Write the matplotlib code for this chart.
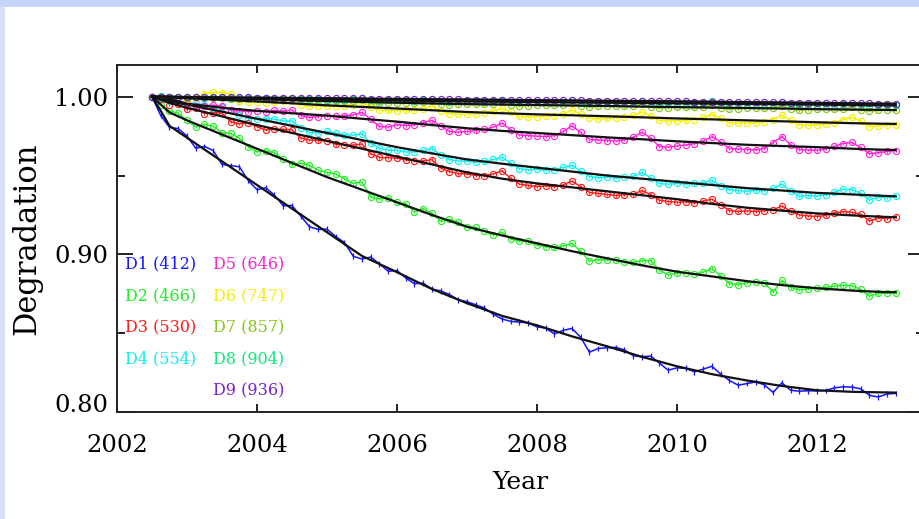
import matplotlib
matplotlib.use("Agg")
import matplotlib.pyplot as plt
from matplotlib.patches import Rectangle

# ---------------- data ----------------
YEARS = [2002.500, 2002.625, 2002.750, 2002.875, 2003.000, 2003.125, 2003.250, 2003.375, 2003.500, 2003.625,
         2003.750, 2003.875, 2004.000, 2004.125, 2004.250, 2004.375, 2004.500, 2004.625, 2004.750, 2004.875,
         2005.000, 2005.125, 2005.250, 2005.375, 2005.500, 2005.625, 2005.750, 2005.875, 2006.000, 2006.125,
         2006.250, 2006.375, 2006.500, 2006.625, 2006.750, 2006.875, 2007.000, 2007.125, 2007.250, 2007.375,
         2007.500, 2007.625, 2007.750, 2007.875, 2008.000, 2008.125, 2008.250, 2008.375, 2008.500, 2008.625,
         2008.750, 2008.875, 2009.000, 2009.125, 2009.250, 2009.375, 2009.500, 2009.625, 2009.750, 2009.875,
         2010.000, 2010.125, 2010.250, 2010.375, 2010.500, 2010.625, 2010.750, 2010.875, 2011.000, 2011.125,
         2011.250, 2011.375, 2011.500, 2011.625, 2011.750, 2011.875, 2012.000, 2012.125, 2012.250, 2012.375,
         2012.500, 2012.625, 2012.750, 2012.875, 2013.000, 2013.125]

D1 = [1.0000, 0.9880, 0.9805, 0.9798, 0.9750, 0.9673, 0.9685, 0.9658, 0.9570, 0.9563,
      0.9555, 0.9468, 0.9410, 0.9423, 0.9375, 0.9308, 0.9310, 0.9243, 0.9175, 0.9158,
      0.9160, 0.9113, 0.9075, 0.8988, 0.8970, 0.8983, 0.8939, 0.8893, 0.8897, 0.8850,
      0.8814, 0.8817, 0.8780, 0.8768, 0.8745, 0.8712, 0.8700, 0.8680, 0.8660, 0.8620,
      0.8590, 0.8575, 0.8570, 0.8565, 0.8540, 0.8532, 0.8495, 0.8518, 0.8530, 0.8474,
      0.8379, 0.8403, 0.8407, 0.8410, 0.8394, 0.8357, 0.8350, 0.8355, 0.8310, 0.8265,
      0.8280, 0.8277, 0.8255, 0.8272, 0.8290, 0.8240, 0.8200, 0.8170, 0.8180, 0.8191,
      0.8172, 0.8124, 0.8185, 0.8138, 0.8132, 0.8135, 0.8133, 0.8136, 0.8153, 0.8160,
      0.8158, 0.8147, 0.8106, 0.8095, 0.8114, 0.8118]
D2 = [1.0000, 0.9950, 0.9910, 0.9895, 0.9850, 0.9808, 0.9825, 0.9813, 0.9770, 0.9768,
      0.9735, 0.9683, 0.9650, 0.9658, 0.9645, 0.9603, 0.9570, 0.9578, 0.9565, 0.9533,
      0.9520, 0.9510, 0.9480, 0.9450, 0.9460, 0.9365, 0.9352, 0.9360, 0.9330, 0.9320,
      0.9270, 0.9290, 0.9260, 0.9211, 0.9223, 0.9204, 0.9175, 0.9171, 0.9148, 0.9124,
      0.9140, 0.9098, 0.9085, 0.9083, 0.9060, 0.9048, 0.9045, 0.9053, 0.9070, 0.9019,
      0.8958, 0.8966, 0.8965, 0.8964, 0.8953, 0.8951, 0.8960, 0.8960, 0.8900, 0.8870,
      0.8880, 0.8883, 0.8875, 0.8888, 0.8910, 0.8863, 0.8815, 0.8808, 0.8820, 0.8824,
      0.8818, 0.8761, 0.8835, 0.8790, 0.8775, 0.8780, 0.8785, 0.8791, 0.8798, 0.8804,
      0.8800, 0.8778, 0.8735, 0.8753, 0.8755, 0.8755]
D3 = [1.0000, 0.9985, 0.9950, 0.9955, 0.9920, 0.9926, 0.9893, 0.9899, 0.9895, 0.9841,
      0.9828, 0.9834, 0.9810, 0.9788, 0.9795, 0.9793, 0.9790, 0.9738, 0.9725, 0.9723,
      0.9720, 0.9698, 0.9695, 0.9693, 0.9700, 0.9638, 0.9615, 0.9613, 0.9610, 0.9598,
      0.9595, 0.9593, 0.9600, 0.9548, 0.9525, 0.9513, 0.9510, 0.9500, 0.9500, 0.9510,
      0.9530, 0.9483, 0.9445, 0.9438, 0.9430, 0.9434, 0.9428, 0.9441, 0.9465, 0.9429,
      0.9393, 0.9386, 0.9380, 0.9374, 0.9378, 0.9381, 0.9405, 0.9379, 0.9343, 0.9336,
      0.9330, 0.9333, 0.9325, 0.9338, 0.9350, 0.9314, 0.9278, 0.9272, 0.9276, 0.9271,
      0.9277, 0.9282, 0.9307, 0.9273, 0.9249, 0.9244, 0.9240, 0.9247, 0.9264, 0.9270,
      0.9267, 0.9255, 0.9212, 0.9230, 0.9227, 0.9240]
D4 = [1.0000, 0.9990, 0.9975, 0.9970, 0.9960, 0.9959, 0.9948, 0.9926, 0.9935, 0.9914,
      0.9883, 0.9861, 0.9860, 0.9859, 0.9858, 0.9846, 0.9845, 0.9804, 0.9773, 0.9771,
      0.9780, 0.9769, 0.9758, 0.9756, 0.9765, 0.9704, 0.9673, 0.9661, 0.9660, 0.9650,
      0.9650, 0.9660, 0.9670, 0.9631, 0.9601, 0.9592, 0.9592, 0.9585, 0.9589, 0.9602,
      0.9615, 0.9579, 0.9543, 0.9536, 0.9540, 0.9534, 0.9538, 0.9551, 0.9565, 0.9529,
      0.9493, 0.9486, 0.9490, 0.9485, 0.9490, 0.9495, 0.9520, 0.9485, 0.9450, 0.9445,
      0.9450, 0.9445, 0.9450, 0.9455, 0.9470, 0.9435, 0.9410, 0.9405, 0.9400, 0.9406,
      0.9403, 0.9419, 0.9445, 0.9401, 0.9368, 0.9374, 0.9370, 0.9378, 0.9395, 0.9413,
      0.9410, 0.9388, 0.9345, 0.9363, 0.9360, 0.9368]
D5 = [1.0000, 0.9995, 0.9985, 0.9975, 0.9960, 0.9939, 0.9943, 0.9946, 0.9940, 0.9915,
      0.9910, 0.9905, 0.9910, 0.9906, 0.9913, 0.9909, 0.9915, 0.9881, 0.9868, 0.9874,
      0.9880, 0.9875, 0.9880, 0.9885, 0.9900, 0.9856, 0.9811, 0.9807, 0.9822, 0.9817,
      0.9821, 0.9836, 0.9850, 0.9815, 0.9780, 0.9775, 0.9780, 0.9786, 0.9792, 0.9807,
      0.9833, 0.9790, 0.9757, 0.9753, 0.9750, 0.9747, 0.9753, 0.9780, 0.9816, 0.9773,
      0.9729, 0.9726, 0.9722, 0.9719, 0.9726, 0.9743, 0.9775, 0.9737, 0.9684, 0.9680,
      0.9687, 0.9694, 0.9702, 0.9719, 0.9746, 0.9713, 0.9671, 0.9668, 0.9665, 0.9663,
      0.9671, 0.9709, 0.9747, 0.9695, 0.9664, 0.9662, 0.9660, 0.9668, 0.9685, 0.9703,
      0.9710, 0.9678, 0.9637, 0.9645, 0.9653, 0.9657]
D6 = [1.0000, 0.9998, 0.9990, 0.9992, 0.9985, 0.9990, 1.0020, 1.0028, 1.0025, 1.0018,
      0.9970, 0.9968, 0.9965, 0.9962, 0.9968, 0.9970, 0.9975, 0.9950, 0.9940, 0.9942,
      0.9940, 0.9940, 0.9944, 0.9950, 0.9965, 0.9935, 0.9915, 0.9913, 0.9912, 0.9914,
      0.9916, 0.9925, 0.9942, 0.9910, 0.9893, 0.9890, 0.9891, 0.9893, 0.9897, 0.9910,
      0.9928, 0.9900, 0.9875, 0.9873, 0.9874, 0.9876, 0.9880, 0.9892, 0.9915, 0.9890,
      0.9865, 0.9860, 0.9862, 0.9866, 0.9872, 0.9882, 0.9904, 0.9880, 0.9850, 0.9846,
      0.9847, 0.9850, 0.9855, 0.9868, 0.9886, 0.9862, 0.9836, 0.9832, 0.9833, 0.9835,
      0.9840, 0.9855, 0.9882, 0.9850, 0.9822, 0.9820, 0.9822, 0.9826, 0.9835, 0.9855,
      0.9870, 0.9845, 0.9810, 0.9815, 0.9818, 0.9822]
D7 = [1.0000, 1.0000, 0.9995, 0.9998, 0.9993, 0.9996, 0.9990, 0.9994, 0.9992, 0.9986,
      0.9986, 0.9988, 0.9984, 0.9985, 0.9980, 0.9983, 0.9990, 0.9972, 0.9970, 0.9973,
      0.9971, 0.9971, 0.9970, 0.9974, 0.9982, 0.9963, 0.9958, 0.9960, 0.9961, 0.9960,
      0.9960, 0.9964, 0.9972, 0.9953, 0.9948, 0.9951, 0.9952, 0.9952, 0.9952, 0.9956,
      0.9965, 0.9947, 0.9940, 0.9944, 0.9946, 0.9946, 0.9946, 0.9950, 0.9959, 0.9941,
      0.9934, 0.9938, 0.9940, 0.9940, 0.9939, 0.9943, 0.9952, 0.9934, 0.9927, 0.9931,
      0.9933, 0.9933, 0.9932, 0.9936, 0.9946, 0.9928, 0.9920, 0.9924, 0.9927, 0.9927,
      0.9926, 0.9930, 0.9940, 0.9921, 0.9914, 0.9918, 0.9920, 0.9921, 0.9920, 0.9925,
      0.9932, 0.9915, 0.9909, 0.9913, 0.9915, 0.9916]
D8 = [1.0000, 1.0002, 0.9998, 0.9999, 0.9996, 0.9995, 0.9994, 0.9995, 0.9997, 0.9990,
      0.9990, 0.9991, 0.9989, 0.9989, 0.9988, 0.9989, 0.9994, 0.9984, 0.9983, 0.9984,
      0.9982, 0.9982, 0.9981, 0.9983, 0.9990, 0.9977, 0.9975, 0.9977, 0.9976, 0.9976,
      0.9975, 0.9977, 0.9985, 0.9970, 0.9969, 0.9971, 0.9970, 0.9970, 0.9969, 0.9972,
      0.9982, 0.9966, 0.9964, 0.9966, 0.9966, 0.9966, 0.9965, 0.9968, 0.9979, 0.9962,
      0.9960, 0.9962, 0.9962, 0.9962, 0.9961, 0.9963, 0.9975, 0.9958, 0.9956, 0.9958,
      0.9958, 0.9958, 0.9957, 0.9959, 0.9971, 0.9954, 0.9952, 0.9954, 0.9954, 0.9954,
      0.9953, 0.9955, 0.9967, 0.9950, 0.9948, 0.9950, 0.9950, 0.9949, 0.9948, 0.9951,
      0.9961, 0.9945, 0.9943, 0.9945, 0.9945, 0.9945]
D9 = [1.0000, 1.0001, 0.9999, 0.9999, 0.9998, 0.9998, 0.9997, 0.9997, 0.9996, 0.9996,
      0.9995, 0.9995, 0.9994, 0.9994, 0.9993, 0.9993, 0.9993, 0.9992, 0.9991, 0.9991,
      0.9990, 0.9990, 0.9989, 0.9989, 0.9989, 0.9988, 0.9987, 0.9987, 0.9986, 0.9986,
      0.9985, 0.9985, 0.9985, 0.9984, 0.9983, 0.9983, 0.9982, 0.9982, 0.9981, 0.9981,
      0.9981, 0.9980, 0.9979, 0.9979, 0.9978, 0.9978, 0.9977, 0.9977, 0.9977, 0.9976,
      0.9975, 0.9975, 0.9974, 0.9974, 0.9973, 0.9973, 0.9973, 0.9972, 0.9971, 0.9971,
      0.9970, 0.9970, 0.9969, 0.9969, 0.9969, 0.9968, 0.9967, 0.9966, 0.9965, 0.9965,
      0.9964, 0.9964, 0.9964, 0.9963, 0.9962, 0.9962, 0.9961, 0.9960, 0.9960, 0.9959,
      0.9959, 0.9958, 0.9957, 0.9956, 0.9956, 0.9956]

FIT_YEARS = [2002.5, 2002.625, 2002.75, 2003.0, 2003.5, 2004.0, 2004.5, 2005.0, 2005.5, 2006.0,
             2006.5, 2007.0, 2007.5, 2008.0, 2008.5, 2009.0, 2009.5, 2010.0, 2010.5, 2011.0,
             2011.5, 2012.0, 2012.5, 2013.0, 2013.125]
F1 = [1.000, 0.991, 0.9815, 0.974, 0.959, 0.944, 0.929, 0.914, 0.899, 0.8887, 0.878, 0.869, 0.861,
      0.855, 0.848, 0.8417, 0.835, 0.829, 0.824, 0.820, 0.8165, 0.8138, 0.8128, 0.8124, 0.8123]
F2 = [1.000, 0.995, 0.990, 0.985, 0.976, 0.967, 0.958, 0.949, 0.941, 0.933, 0.925, 0.9175, 0.912,
      0.907, 0.902, 0.8975, 0.893, 0.889, 0.886, 0.883, 0.8805, 0.8785, 0.877, 0.876, 0.876]
F3 = [1.000, 0.998, 0.996, 0.993, 0.9875, 0.982, 0.977, 0.972, 0.967, 0.962, 0.957, 0.952, 0.948,
      0.945, 0.9425, 0.940, 0.9375, 0.935, 0.932, 0.9296, 0.9277, 0.926, 0.9247, 0.9237, 0.9235]
F4 = [1.000, 0.9985, 0.997, 0.995, 0.9905, 0.986, 0.9815, 0.977, 0.9725, 0.968, 0.964, 0.9602, 0.9575,
      0.955, 0.9525, 0.950, 0.948, 0.946, 0.944, 0.942, 0.9405, 0.939, 0.938, 0.937, 0.9368]
F5 = [1.000, 0.99925, 0.9985, 0.9955, 0.993, 0.991, 0.9895, 0.988, 0.986, 0.9842, 0.982, 0.980, 0.9783,
      0.977, 0.9756, 0.9742, 0.973, 0.9717, 0.9706, 0.9695, 0.9687, 0.968, 0.967, 0.9663, 0.9662]
F6 = [1.000, 0.9998, 0.9995, 0.999, 0.998, 0.997, 0.9958, 0.9945, 0.9935, 0.9925, 0.9914, 0.9903, 0.9895,
      0.9888, 0.9882, 0.9876, 0.9869, 0.9862, 0.9856, 0.985, 0.9844, 0.9838, 0.9832, 0.9828, 0.9827]
F7 = [1.000, 1.000, 0.9998, 0.9995, 0.999, 0.9985, 0.9978, 0.9972, 0.9967, 0.9962, 0.9957, 0.9953, 0.995,
      0.9947, 0.9944, 0.9941, 0.9937, 0.9934, 0.9931, 0.9928, 0.9925, 0.9921, 0.9918, 0.9916, 0.9915]
F8 = [1.000, 1.000, 1.000, 0.9995, 0.9992, 0.9989, 0.9986, 0.9982, 0.9979, 0.9976, 0.9973, 0.997, 0.9968,
      0.9966, 0.9964, 0.9962, 0.996, 0.9958, 0.9956, 0.9954, 0.9952, 0.995, 0.9947, 0.9945, 0.9944]
F9 = [1.000, 1.000, 1.000, 0.9998, 0.9996, 0.9994, 0.9992, 0.999, 0.9988, 0.9986, 0.9984, 0.9982, 0.998,
      0.9978, 0.9976, 0.9974, 0.9972, 0.997, 0.9968, 0.9965, 0.9963, 0.9961, 0.9958, 0.9956, 0.9955]

NAMES = ["D1", "D2", "D3", "D4", "D5", "D6", "D7", "D8", "D9"]
WAVELENGTHS = ["412", "466", "530", "554", "646", "747", "857", "904", "936"]
X_TICKS = [2002, 2004, 2006, 2008, 2010, 2012]
Y_TICKS = [0.80, 0.90, 1.00]
Y_MINOR = [0.85, 0.95]

SERIES = [D1, D2, D3, D4, D5, D6, D7, D8, D9]
FITS = [F1, F2, F3, F4, F5, F6, F7, F8, F9]
COLORS = ["#1414ff", "#22ee22", "#ff1a1a", "#11f0f0", "#ff22d8", "#f4f000",
          "#86c81a", "#10e880", "#7a1fd2"]

# ---------------- figure ----------------
W, H = 920, 519
fig = plt.figure(figsize=(W / 100, H / 100), dpi=100)
fig.patch.set_facecolor("white")
fig.patches.append(Rectangle((0, 1 - 7 / H), 1, 7 / H, transform=fig.transFigure,
                             facecolor="#c6d3fa", edgecolor="none", zorder=0))
fig.patches.append(Rectangle((0, 0), 5 / W, 1 - 7 / H, transform=fig.transFigure,
                             facecolor="#d8e0f9", edgecolor="none", zorder=0))

ax_l, ax_r, ax_t, ax_b = 117, 924, 65, 412
ax = fig.add_axes([ax_l / W, (H - ax_b) / H, (ax_r - ax_l) / W, (ax_b - ax_t) / H])
ax.set_facecolor("white")
ax.set_xlim(2002, 2013.53)
ax.set_ylim(0.80, 1.0201)

# data series
for k, (ys, col) in enumerate(zip(SERIES, COLORS)):
    n = min(len(YEARS), len(ys))
    if k == 0:
        ax.errorbar(YEARS[:n], ys[:n], yerr=0.0018, color=col, lw=1.1, elinewidth=0.9,
                    capsize=0, zorder=3)
    else:
        ax.errorbar(YEARS[:n], ys[:n], yerr=0.0008, color=col, lw=1.0, elinewidth=0.7,
                    capsize=0, marker="o", ms=4.4, mfc="none", mec=col, mew=0.85,
                    zorder=3 + k * 0.1)

# fitted curves
for fy in FITS:
    n = min(len(FIT_YEARS), len(fy))
    ax.plot(FIT_YEARS[:n], fy[:n], color="#111111", lw=1.6, zorder=5)

# axes styling
for sp in ax.spines.values():
    sp.set_linewidth(1.4)
    sp.set_color("#222222")

SERIF = "DejaVu Serif"
ax.set_xticks(X_TICKS)
ax.set_xticklabels([str(v) for v in X_TICKS], family=SERIF, fontsize=17.5)
ax.set_yticks(Y_TICKS)
ax.set_yticklabels(["%.2f" % v for v in Y_TICKS], family=SERIF, fontsize=17.5)
ax.set_yticks(Y_MINOR, minor=True)
# the bottom y label sits with its baseline on the axis, as in the original
ax.get_yticklabels()[0].set_verticalalignment("baseline")

ax.tick_params(axis="x", which="major", direction="in", top=True, bottom=True,
               length=5.8, width=1.4, pad=16, color="#222222")
ax.tick_params(axis="y", which="major", direction="in", left=True, right=True,
               length=11.5, width=1.4, pad=6.5, color="#222222")
ax.tick_params(axis="y", which="minor", direction="in", left=True, right=True,
               length=5.8, width=1.4, color="#222222")

ax.set_xlabel("Year", family=SERIF, fontsize=18, labelpad=10)
ax.set_ylabel("Degradation", family=SERIF, fontsize=22, labelpad=8)

# colour-coded band labels
col_x = [0.010, 0.119]
row_y = [0.4265, 0.3343, 0.242, 0.1527, 0.0605]
positions = [(0, 0), (0, 1), (0, 2), (0, 3), (1, 0), (1, 1), (1, 2), (1, 3), (1, 4)]
for (c, r), name, wl, col in zip(positions, NAMES, WAVELENGTHS, COLORS):
    ax.text(col_x[c], row_y[r], f"{name} ({wl})", transform=ax.transAxes,
            color=col, family=SERIF, fontsize=11.5, ha="left", va="center",
            zorder=6)

fig.savefig("out.png", dpi=100, facecolor=fig.get_facecolor())
